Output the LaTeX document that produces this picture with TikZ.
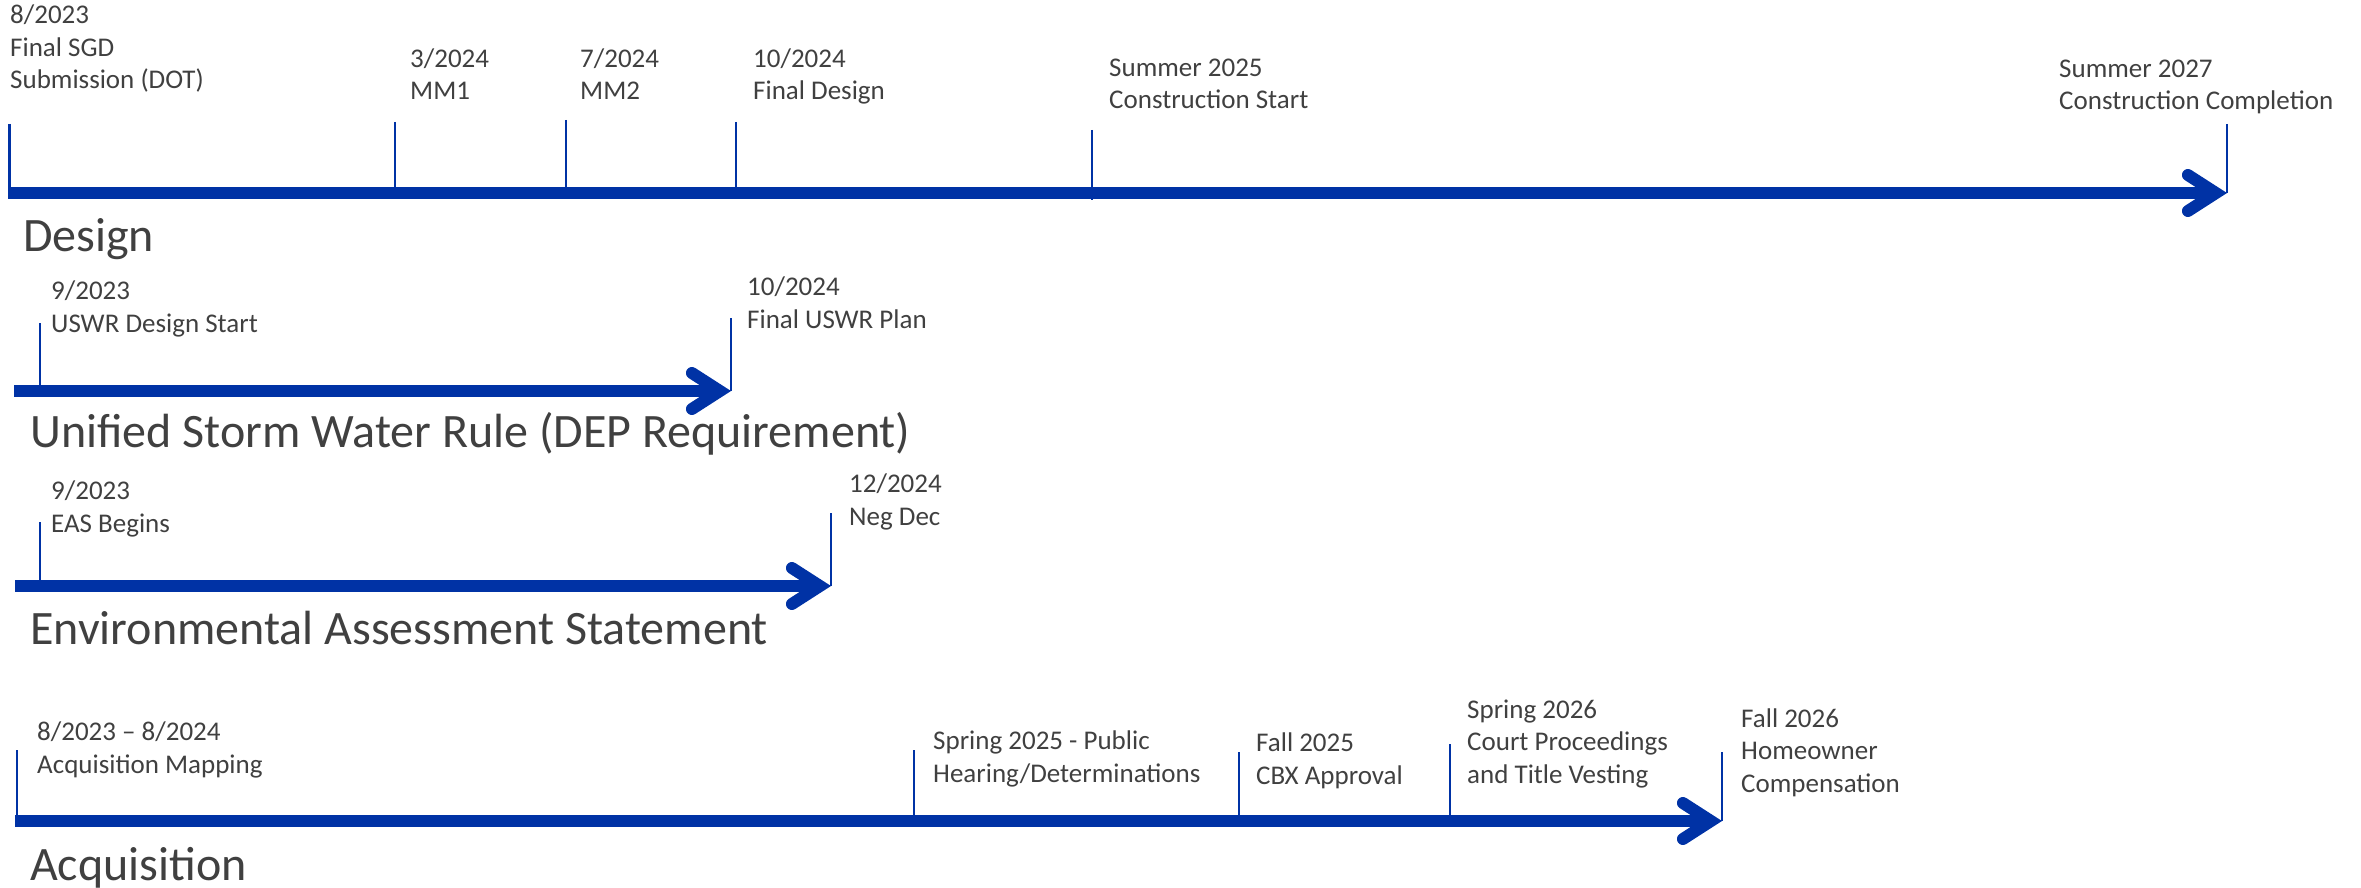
\documentclass[tikz,border=0pt]{standalone}
\usepackage{fontspec}
\setmainfont{Carlito}
\usetikzlibrary{arrows.meta,positioning,calc}
\definecolor{lineblue}{RGB}{0,50,165}
\definecolor{textgrey}{RGB}{64,64,64}

\begin{document}
\begin{tikzpicture}[x=1pt, y=-1pt,
  lbl/.style={anchor=base west, inner sep=0pt, align=left, text=textgrey,
              font=\fontsize{27}{32.5}\selectfont},
  ttl/.style={anchor=base west, inner sep=0pt, text=textgrey,
              font=\fontsize{48}{56}\selectfont},
  tick/.style={draw=lineblue, line width=2.6pt},
  axis/.style={draw=lineblue, line width=12pt,
               -{Straight Barb[length=28pt, width=36pt, line cap=round, line join=miter]}}
]
  \useasboundingbox (0,0) rectangle (2361,888);

  % Design
  \coordinate (ds) at (8,193);
  \coordinate (de) at (2227,193);
  \node[lbl] (sgd)  at (10,89)    {8/2023\\Final SGD\\Submission (DOT)};
  \node[lbl] (mm1)  at (410,100)  {3/2024\\MM1};
  \node[lbl] (mm2)  at (580,100)  {7/2024\\MM2};
  \node[lbl] (fd)   at (753,100)  {10/2024\\Final Design};
  \node[lbl] (cs)   at (1109,109) {Summer 2025\\Construction Start};
  \node[lbl] (cc)   at (2059,110) {Summer 2027\\Construction Completion};
  \coordinate (t-sgd) at (9.5,124);
  \coordinate (t-mm1) at (395,122);
  \coordinate (t-mm2) at (566,120);
  \coordinate (t-fd)  at (736,122);
  \coordinate (t-cs)  at (1092,130);
  \coordinate (t-cc)  at (2227,124);
  \draw[tick] (t-sgd) -- (t-sgd |- ds);
  \draw[tick] (t-mm1) -- (t-mm1 |- ds);
  \draw[tick] (t-mm2) -- (t-mm2 |- ds);
  \draw[tick] (t-fd)  -- (t-fd |- ds);
  \draw[tick] (t-cs)  -- ($(t-cs |- ds)+(0,7)$);
  \draw[tick] (t-cc)  -- (t-cc |- ds);
  \draw[axis] (ds) -- (de);
  \node[ttl] (design) at (23,251) {Design};

  % Unified Storm Water Rule
  \coordinate (us) at (14,391);
  \coordinate (ue) at (731,391);
  \node[lbl] (usws) at (51,332)  {9/2023\\USWR Design Start};
  \node[lbl] (uswp) at (747,328) {10/2024\\Final USWR Plan};
  \coordinate (t-usws) at (40,323);
  \coordinate (t-uswp) at (731,318);
  \draw[tick] (t-usws) -- (t-usws |- us);
  \draw[tick] (t-uswp) -- (t-uswp |- us);
  \draw[axis] (us) -- (ue);
  \node[ttl] (uswr) at (30,447) {Unified Storm Water Rule (DEP Requirement)};

  % Environmental Assessment Statement
  \coordinate (es) at (15,586);
  \coordinate (ee) at (831,586);
  \node[lbl] (easb) at (51,532) {9/2023\\EAS Begins};
  \node[lbl] (negd) at (849,525) {12/2024\\Neg Dec};
  \coordinate (t-easb) at (40,522);
  \coordinate (t-negd) at (831,513);
  \draw[tick] (t-easb) -- (t-easb |- es);
  \draw[tick] (t-negd) -- (t-negd |- es);
  \draw[axis] (es) -- (ee);
  \node[ttl] (eas) at (30,644) {Environmental Assessment Statement};

  % Acquisition
  \coordinate (as) at (15,821);
  \coordinate (ae) at (1722,821);
  \node[lbl] (amap) at (37,773)   {8/2023 – 8/2024\\Acquisition Mapping};
  \node[lbl] (hear) at (933,782)  {Spring 2025 - Public\\Hearing/Determinations};
  \node[lbl] (cbx)  at (1256,784) {Fall 2025\\CBX Approval};
  \node[lbl] (crt)  at (1467,783) {Spring 2026\\Court Proceedings\\and Title Vesting};
  \node[lbl] (comp) at (1741,792) {Fall 2026\\Homeowner\\Compensation};
  \coordinate (t-amap) at (17,750);
  \coordinate (t-hear) at (914,750);
  \coordinate (t-cbx)  at (1239,752);
  \coordinate (t-crt)  at (1450,744);
  \coordinate (t-comp) at (1722,752);
  \draw[tick] (t-amap) -- (t-amap |- as);
  \draw[tick] (t-hear) -- (t-hear |- as);
  \draw[tick] (t-cbx)  -- (t-cbx |- as);
  \draw[tick] (t-crt)  -- (t-crt |- as);
  \draw[tick] (t-comp) -- (t-comp |- as);
  \draw[axis] (as) -- (ae);
  \node[ttl] (acq) at (30,880) {Acquisition};
\end{tikzpicture}
\end{document}
